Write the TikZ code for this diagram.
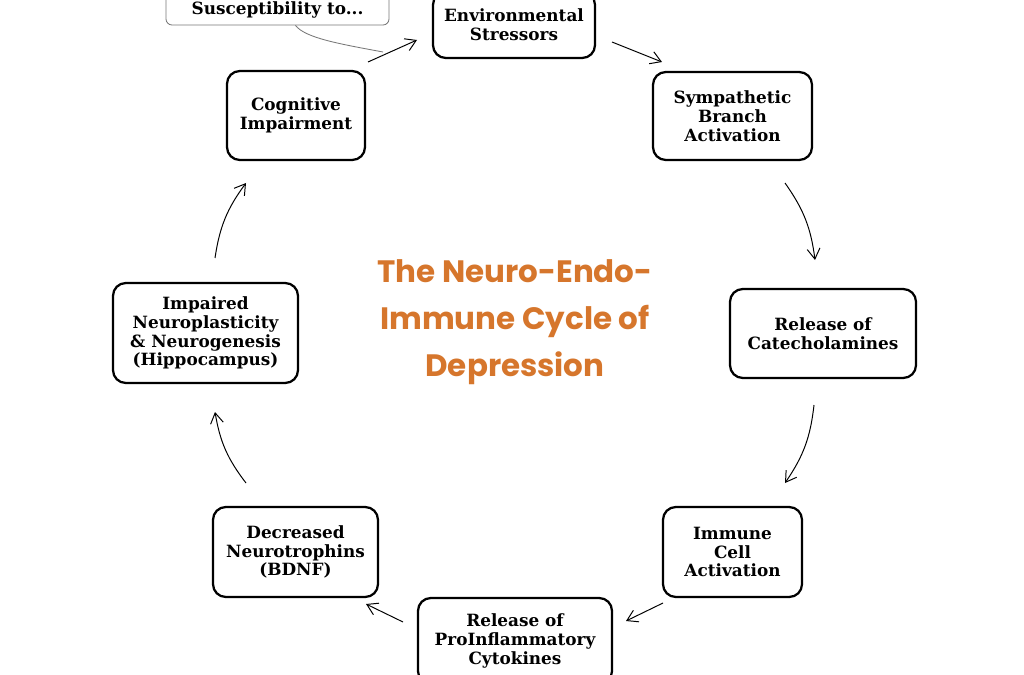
\documentclass[tikz,border=0pt]{standalone}
\usepackage{fontspec}
\setmainfont{DejaVu Serif}
\newfontfamily\titlefont{Poppins}
\usetikzlibrary{arrows.meta}
\definecolor{titleorange}{RGB}{214,118,44}
\definecolor{calloutgray}{RGB}{120,120,120}
\tikzset{
  stagebox/.style={draw=black, line width=1.6pt, rounded corners=0.32cm, align=center,
    inner sep=0pt, font=\bfseries\fontsize{12}{13.4}\selectfont, fill=white},
  calloutbox/.style={draw=calloutgray, line width=0.6pt, rounded corners=0.15cm, align=center,
    inner sep=0pt, font=\bfseries\fontsize{12}{13.4}\selectfont, fill=white},
  flow/.style={black, line width=0.7pt, -{Straight Barb[length=2.6mm,width=3.2mm]}},
  calloutline/.style={calloutgray, line width=0.6pt},
}
\begin{document}
\begin{tikzpicture}[x=0.025cm,y=0.025cm]
\useasboundingbox (0,0) rectangle (1024,-675);
% nodes
\node[calloutbox, minimum width=223*0.025cm, minimum height=46*0.025cm] (sus) at (277.5,-2) {};
\node[font=\bfseries\fontsize{12}{13.4}\selectfont, anchor=base, inner sep=0pt] (sustext) at (277.5,-15) {Susceptibility to...};
\node[stagebox, minimum width=162*0.025cm, minimum height=66*0.025cm] (env) at (514,-25) {Environmental\\Stressors};
\node[stagebox, minimum width=159*0.025cm, minimum height=88*0.025cm] (symp) at (732.5,-116) {Sympathetic\\Branch\\Activation};
\node[stagebox, minimum width=186*0.025cm, minimum height=89*0.025cm] (cat) at (823,-333.5) {Release of\\Catecholamines};
\node[stagebox, minimum width=139*0.025cm, minimum height=90*0.025cm] (imm) at (732.5,-552) {Immune\\Cell\\Activation};
\node[stagebox, minimum width=194*0.025cm, minimum height=86*0.025cm] (cyt) at (515,-641) {Release of\\ProInflammatory\\Cytokines};
\node[stagebox, minimum width=165*0.025cm, minimum height=90*0.025cm] (bdnf) at (295.5,-552) {Decreased\\Neurotrophins\\(BDNF)};
\node[stagebox, minimum width=185*0.025cm, minimum height=100*0.025cm] (imp) at (205.5,-333) {Impaired\\Neuroplasticity\\\& Neurogenesis\\(Hippocampus)};
\node[stagebox, minimum width=138*0.025cm, minimum height=89*0.025cm] (cog) at (296,-115.5) {Cognitive\\Impairment};
\node[align=center, text=titleorange, font=\titlefont\bfseries\fontsize{22}{33.5}\selectfont] (title) at (515,-322) {The Neuro-Endo-\\Immune Cycle of\\Depression};
% arrow end points
\coordinate (a1s) at (368,-62);  \coordinate (a1e) at (417,-40);
\coordinate (a2s) at (612,-42);  \coordinate (a2e) at (662,-62);
\coordinate (a3s) at (785,-183); \coordinate (a3e) at (815,-260);
\coordinate (a4s) at (814,-405); \coordinate (a4e) at (785,-483);
\coordinate (a5s) at (663,-603); \coordinate (a5e) at (626,-621);
\coordinate (a6s) at (403,-622); \coordinate (a6e) at (366,-604);
\coordinate (a7s) at (246,-483); \coordinate (a7e) at (215,-412);
\coordinate (a8s) at (215,-258); \coordinate (a8e) at (246,-183);
\coordinate (callend) at (383,-52);
% connectors
\draw[flow] (a1s) -- (a1e);
\draw[flow] (a2s) -- (a2e);
\draw[flow] (a3s) to[bend left=14] (a3e);
\draw[flow] (a4s) to[bend left=14] (a4e);
\draw[flow] (a5s) -- (a5e);
\draw[flow] (a6s) -- (a6e);
\draw[flow] (a7s) to[bend left=14] (a7e);
\draw[flow] (a8s) to[bend left=14] (a8e);
\draw[calloutline] (sus.south) ++(18,0) coordinate (callstart)
  (callstart) .. controls (305,-38) and (340,-44) .. (callend);
\end{tikzpicture}
\end{document}
